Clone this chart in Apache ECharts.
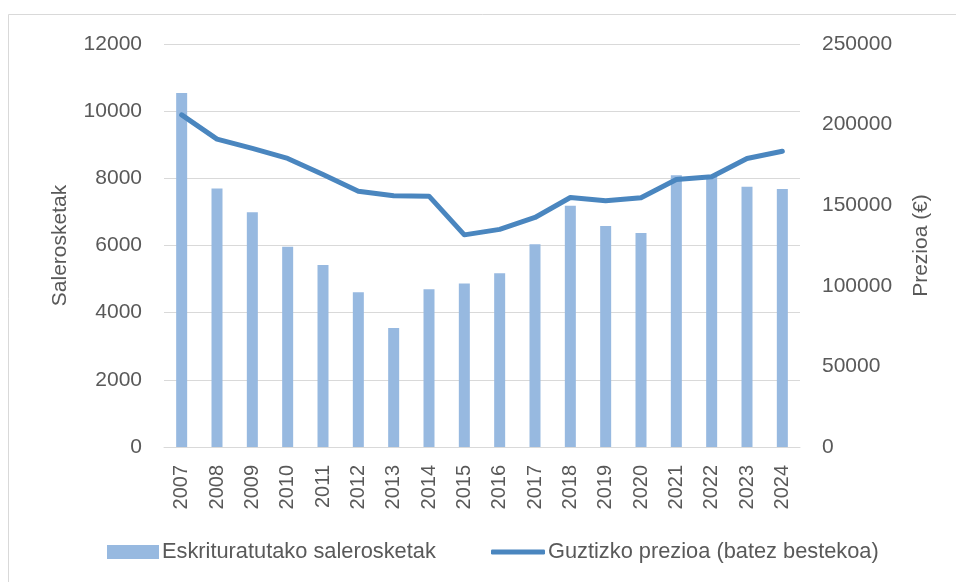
<!DOCTYPE html>
<html>
<head>
<meta charset="utf-8">
<script src="https://cdn.jsdelivr.net/npm/echarts@6/dist/echarts.min.js"></script>
<style>
  html, body { margin: 0; padding: 0; background: #fff; }
  #chart { width: 956px; height: 582px; }
</style>
</head>
<body>
<div id="chart"></div>
<script>
// Data
const years = ['2007', '2008', '2009', '2010', '2011', '2012', '2013', '2014', '2015',
  '2016', '2017', '2018', '2019', '2020', '2021', '2022', '2023', '2024']
const sales = [10540, 7700, 6990, 5960, 5420, 4610, 3540, 4700, 4870,
  5170, 6040, 7180, 6580, 6370, 8090, 8080, 7750, 7680]
const prices = [206000, 191000, 185200, 179000, 169000, 158700, 155800, 155600, 131600,
  135000, 142400, 154800, 152700, 154600, 166000, 167600, 179000, 183500]
const leftTicks = { min: 0, max: 12000, interval: 2000 }
const rightTicks = { min: 0, max: 250000, interval: 50000 }

const TEXT = '#595959'
const FONT = 'Liberation Sans'
const BAR = '#97B9E0'
const LINE = '#4A86BF'

const plain = (v) => String(v) // no thousands separators, like the source

const chart = echarts.init(document.getElementById('chart'))

const legendText = { fontFamily: FONT, fontSize: 21.8, color: TEXT, padding: [0, 0, 0, -2] }

chart.setOption({
  backgroundColor: '#fff',
  animation: false,
  textStyle: { fontFamily: FONT, color: TEXT },
  graphic: [{
    type: 'rect',
    shape: { x: 8.5, y: 14.5, width: 1000, height: 700 },
    style: { fill: 'none', stroke: '#d9d9d9', lineWidth: 1 },
    silent: true
  }],
  grid: { left: 164, right: 156, top: 44, bottom: 135 },
  // two legends so each key gets its own icon size
  legend: [
    {
      top: 541,
      left: 107,
      padding: 0,
      itemWidth: 52,
      itemHeight: 14,
      textStyle: legendText,
      data: [{ name: 'Eskrituratutako salerosketak', icon: 'rect' }]
    },
    {
      top: 541,
      left: 491,
      padding: 0,
      itemWidth: 54,
      itemHeight: 5,
      textStyle: legendText,
      data: [{ name: 'Guztizko prezioa (batez bestekoa)', icon: 'roundRect' }]
    }
  ],
  xAxis: {
    type: 'category',
    data: years,
    axisTick: { show: false },
    axisLine: { lineStyle: { color: '#d9d9d9', width: 1 } },
    axisLabel: { rotate: 90, margin: 18, fontSize: 20, color: TEXT, fontFamily: FONT }
  },
  yAxis: [
    {
      type: 'value',
      ...leftTicks,
      name: 'Salerosketak',
      nameLocation: 'middle',
      nameGap: 93,
      nameTextStyle: { fontSize: 21, color: TEXT, fontFamily: FONT },
      axisLabel: { margin: 22, fontSize: 21, color: TEXT, fontFamily: FONT, formatter: plain },
      splitLine: { lineStyle: { color: '#d9d9d9', width: 1 } },
      axisLine: { show: false },
      axisTick: { show: false }
    },
    {
      type: 'value',
      ...rightTicks,
      name: 'Prezioa (€)',
      nameLocation: 'middle',
      nameGap: 111,
      nameTextStyle: { fontSize: 21, color: TEXT, fontFamily: FONT },
      axisLabel: { margin: 22, fontSize: 21, color: TEXT, fontFamily: FONT, formatter: plain },
      splitLine: { show: false },
      axisLine: { show: false },
      axisTick: { show: false }
    }
  ],
  series: [
    {
      name: 'Eskrituratutako salerosketak',
      type: 'bar',
      yAxisIndex: 0,
      barWidth: 11,
      itemStyle: { color: BAR },
      data: sales
    },
    {
      name: 'Guztizko prezioa (batez bestekoa)',
      type: 'line',
      yAxisIndex: 1,
      symbol: 'none',
      itemStyle: { color: LINE },
      lineStyle: { color: LINE, width: 5, cap: 'round', join: 'round' },
      data: prices
    }
  ]
})
</script>
</body>
</html>
